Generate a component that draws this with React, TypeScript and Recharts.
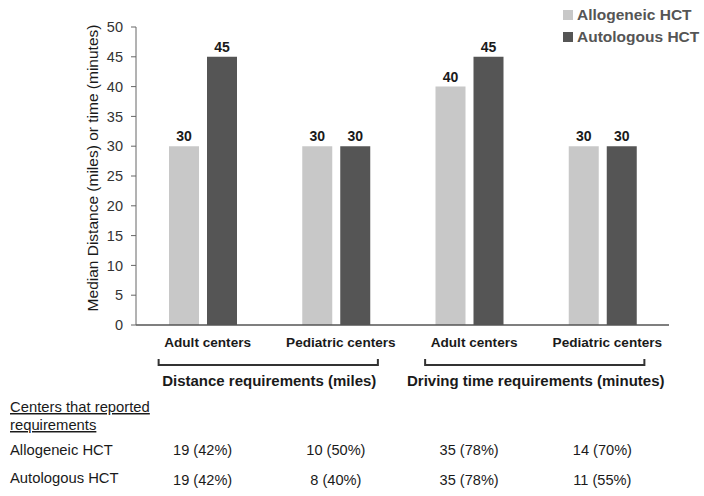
import React from 'react';
import { BarChart, Bar, XAxis, YAxis, LabelList, Legend } from 'recharts';

const categories = ['Adult centers', 'Pediatric centers', 'Adult centers', 'Pediatric centers'];
const allogeneic = [30, 30, 40, 30];
const autologous = [45, 30, 45, 30];
const groups = [
  { title: 'Distance requirements (miles)', from: 0, to: 1 },
  { title: 'Driving time requirements (minutes)', from: 2, to: 3 },
];
const allogeneicCounts = ['19 (42%)', '10 (50%)', '35 (78%)', '14 (70%)'];
const autologousCounts = ['19 (42%)', '8 (40%)', '35 (78%)', '11 (55%)'];
const yTicks = [0, 5, 10, 15, 20, 25, 30, 35, 40, 45, 50];
const seriesNames = ['Allogeneic HCT', 'Autologous HCT'];
const tableHeader = ['Centers that reported', 'requirements'];

const data = categories.map((c, i) => ({
  name: c,
  allo: allogeneic[i],
  auto: autologous[i],
}));

const W = 704;
const H = 496;
const MARGIN = { top: 27, right: 35, left: 0, bottom: 11 };
const Y_W = 136;
const X_H = 160;
const PLOT_W = W - MARGIN.left - MARGIN.right - Y_W;
const BAND = PLOT_W / categories.length;
const BASE = H - MARGIN.bottom - X_H;

const LIGHT = '#c8c8c8';
const DARK = '#555555';
const FONT = '"Liberation Sans", Arial, sans-serif';
const TXT = '#1a1a1a';

const XTick = (props: any) => {
  const { x, index, payload } = props;
  const els: any[] = [];
  els.push(
    <text key="cat" x={x + 5} y={BASE + 22} textAnchor="middle" fontFamily={FONT} fontSize={13.6} fontWeight="bold" fill={TXT}>
      {payload.value}
    </text>
  );
  groups.forEach((g, gi) => {
    if (g.from === index) {
      const x1 = x - 44;
      const x2 = x + BAND * (g.to - g.from) + 42;
      const yb = BASE + 40;
      els.push(
        <path key={'br' + gi} d={`M${x1},${yb - 6}L${x1},${yb}L${x2},${yb}L${x2},${yb - 6}`} fill="none" stroke="#333" strokeWidth={2} />
      );
      els.push(
        <text key={'gt' + gi} x={(x1 + x2) / 2 + 1} y={BASE + 61} textAnchor="middle" fontFamily={FONT} fontSize={15} fontWeight="bold" fill={TXT}>
          {g.title}
        </text>
      );
    }
  });
  els.push(
    <text key="c1" x={x} y={BASE + 130} textAnchor="middle" fontFamily={FONT} fontSize={14.6} fill={TXT}>
      {allogeneicCounts[index]}
    </text>
  );
  els.push(
    <text key="c2" x={x} y={BASE + 160} textAnchor="middle" fontFamily={FONT} fontSize={14.6} fill={TXT}>
      {autologousCounts[index]}
    </text>
  );
  if (index === 0) {
    tableHeader.forEach((t, i) => {
      els.push(
        <text key={'h' + i} x={10} y={BASE + 87 + i * 18} fontFamily={FONT} fontSize={14.8} fill={TXT} style={{ textDecoration: 'underline' }}>
          {t}
        </text>
      );
    });
    seriesNames.forEach((s, i) => {
      els.push(
        <text key={'s' + i} x={10} y={BASE + 130 + i * 28} fontFamily={FONT} fontSize={14.8} fill={TXT}>
          {s}
        </text>
      );
    });
  }
  return <g>{els}</g>;
};

const LegendContent = () => (
  <div style={{ fontFamily: FONT }}>
    {seriesNames.map((s, i) => (
      <div key={s} style={{ display: 'flex', alignItems: 'center', height: 22 }}>
        <div style={{ width: 10, height: 10, background: i === 0 ? LIGHT : DARK, marginRight: 4 }} />
        <span style={{ fontSize: 15.5, fontWeight: 'bold', color: '#555' }}>{s}</span>
      </div>
    ))}
  </div>
);

const YLabel = () => (
  <text transform="translate(92,168) rotate(-90)" textAnchor="middle" dominantBaseline="central" fontFamily={FONT} fontSize={15.5} fill={TXT}>
    Median Distance (miles) or time (minutes)
  </text>
);

export default function App() {
  return (
    <div style={{ position: 'absolute', left: 0, top: 0, width: W, height: H, background: '#fff' }}>
      <BarChart width={W} height={H} data={data} margin={MARGIN} barSize={30} barGap={8}>
        <XAxis dataKey="name" height={X_H} tickLine={false} axisLine={{ stroke: '#555', strokeWidth: 1.5 }} tick={<XTick />} interval={0} />
        <YAxis
          width={Y_W}
          domain={[0, 50]}
          ticks={yTicks}
          tickSize={5}
          tickMargin={8}
          axisLine={{ stroke: '#666' }}
          tickLine={{ stroke: '#666' }}
          tick={{ fontFamily: FONT, fontSize: 14.5, fill: '#333' }}
          label={<YLabel />}
        />
        <Legend
          layout="horizontal"
          align="center"
          verticalAlign="middle"
          content={<LegendContent />}
          wrapperStyle={{ top: 4, left: 563, width: 140 }}
        />
        <Bar dataKey="allo" fill={LIGHT} isAnimationActive={false}>
          <LabelList dataKey="allo" position="top" style={{ fontFamily: FONT, fontSize: 14, fontWeight: 'bold', fill: TXT }} />
        </Bar>
        <Bar dataKey="auto" fill={DARK} isAnimationActive={false}>
          <LabelList dataKey="auto" position="top" style={{ fontFamily: FONT, fontSize: 14, fontWeight: 'bold', fill: TXT }} />
        </Bar>
      </BarChart>
    </div>
  );
}
